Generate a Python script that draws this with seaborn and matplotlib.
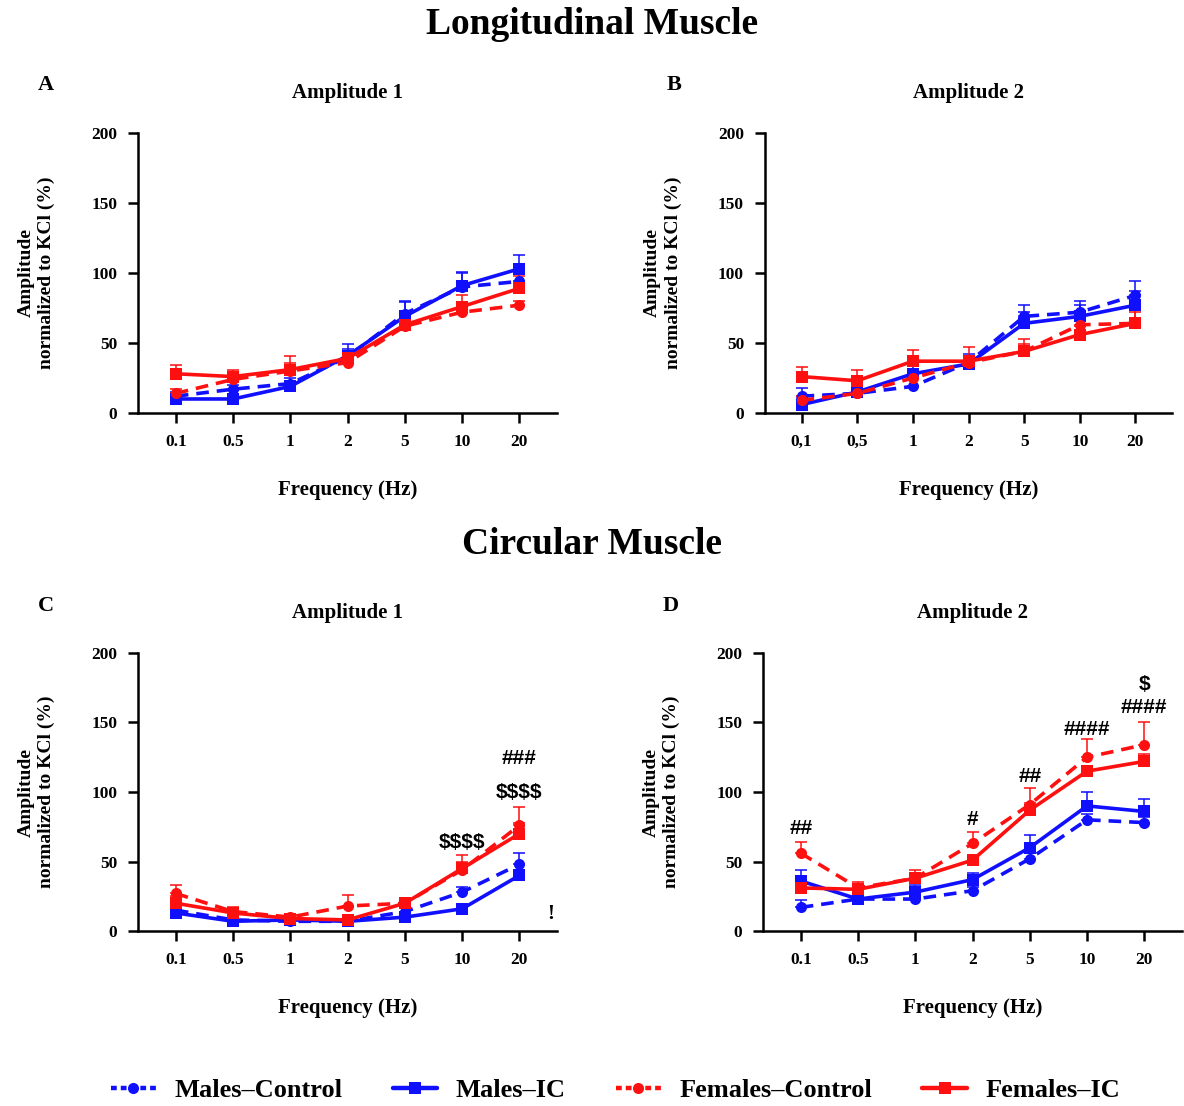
import numpy as np
import pandas as pd
import seaborn as sns
import matplotlib.pyplot as plt
from matplotlib.lines import Line2D

freqs = ['0.1', '0.5', '1', '2', '5', '10', '20']
freqs_comma = ['0,1', '0,5', '1', '2', '5', '10', '20']
groups = ['Males\u2013Control', 'Males\u2013IC', 'Females\u2013Control', 'Females\u2013IC']

# panel A - longitudinal, amplitude 1
a_mc = [12, 17, 21, 40, 71, 90, 94]
a_mi = [10, 10, 19, 41, 69, 91, 103]
a_fc = [14, 24, 30, 36, 62, 72, 77]
a_fi = [28, 26, 31, 39, 63, 76, 89]
a_mc_err = [3, 3, 4, 6, 9, 10, 6]
a_mi_err = [3, 3, 4, 8, 10, 10, 10]
a_fc_err = [3, 4, 6, 3, 4, 4, 3]
a_fi_err = [6, 5, 10, 4, 5, 8, 9]

# panel B - longitudinal, amplitude 2
b_mc = [12, 14, 19, 36, 69, 72, 84]
b_mi = [6, 15, 28, 35, 64, 69, 77]
b_fc = [9, 14, 25, 36, 44, 63, 64]
b_fi = [26, 23, 37, 37, 44, 56, 64]
b_mc_err = [6, 3, 5, 6, 8, 8, 10]
b_mi_err = [5, 3, 6, 5, 8, 8, 10]
b_fc_err = [3, 3, 4, 4, 5, 6, 8]
b_fi_err = [7, 8, 8, 10, 9, 6, 10]

# panel C - circular, amplitude 1
c_mc = [15, 8, 7, 7, 14, 28, 48]
c_mi = [13, 7, 8, 7, 10, 16, 40]
c_fc = [27, 14, 10, 18, 20, 44, 76]
c_fi = [20, 13, 9, 8, 20, 45, 70]
c_mc_err = [3, 2, 2, 2, 3, 4, 8]
c_mi_err = [3, 2, 2, 2, 2, 2, 4]
c_fc_err = [6, 3, 2, 8, 4, 6, 13]
c_fi_err = [5, 3, 2, 2, 4, 10, 8]

# panel D - circular, amplitude 2
d_mc = [17, 23, 23, 29, 52, 80, 78]
d_mi = [36, 23, 28, 37, 60, 90, 86]
d_fc = [56, 31, 38, 63, 91, 125, 134]
d_fi = [31, 30, 38, 51, 87, 115, 122]
d_mc_err = [5, 3, 3, 3, 4, 4, 4]
d_mi_err = [8, 3, 5, 5, 9, 10, 9]
d_fc_err = [8, 4, 6, 8, 12, 13, 16]
d_fi_err = [4, 3, 4, 4, 5, 4, 5]

colors = {groups[0]: '#1010FF', groups[1]: '#1010FF', groups[2]: '#FF1010', groups[3]: '#FF1010'}
dashes = {groups[0]: (3.5, 2.2), groups[1]: '', groups[2]: (3.5, 2.2), groups[3]: ''}
markers = {groups[0]: 'o', groups[1]: 's', groups[2]: 'o', groups[3]: 's'}

sns.set_style('ticks')
plt.rcParams['font.family'] = ['Liberation Serif', 'DejaVu Serif']
plt.rcParams['font.weight'] = 'bold'
for k in ['text.color', 'axes.labelcolor', 'xtick.color', 'ytick.color', 'axes.edgecolor']:
    plt.rcParams[k] = 'black'

fig = plt.figure(figsize=(11.84, 11.06), dpi=100)


def make_df(vals, errs):
    rows = []
    for g, v, e in zip(groups, vals, errs):
        for i in range(len(freqs)):
            rows.append({'pos': i, 'value': v[i], 'err': e[i], 'group': g})
    return pd.DataFrame(rows)


def draw_panel(rect, vals, errs, labels, title, letter):
    ax = fig.add_axes(rect)
    df = make_df(vals, errs)
    # one-sided error bars (upper only)
    for g in groups:
        sub = df[df['group'] == g]
        ax.errorbar(sub['pos'], sub['value'], yerr=[np.zeros(len(sub)), sub['err']],
                    fmt='none', ecolor=colors[g], elinewidth=1.4, capsize=4,
                    capthick=1.4, alpha=0.8, zorder=2)
    sns.lineplot(data=df, x='pos', y='value', hue='group', style='group',
                 palette=colors, dashes=dashes, markers=markers, markersize=8,
                 markeredgewidth=0, linewidth=2.6, ax=ax, legend=False, zorder=3)
    ax.set_xlim(-0.66, 6.66)
    ax.set_ylim(0, 200)
    ax.set_yticks([0, 50, 100, 150, 200])
    ax.set_xticks(range(len(labels)))
    ax.set_xticklabels(labels)
    ax.tick_params(axis='both', labelsize=12.5, width=1.8, length=7, pad=8)
    for lab in ax.get_xticklabels() + ax.get_yticklabels():
        lab.set_fontweight('bold')
    sns.despine(ax=ax)
    ax.spines['left'].set_linewidth(1.8)
    ax.spines['bottom'].set_linewidth(1.8)
    ax.set_xlabel('Frequency (Hz)', fontsize=15, fontweight='bold', labelpad=22)
    ax.set_ylabel('Amplitude\nnormalized to KCl (%)', fontsize=14, fontweight='bold',
                  labelpad=26, linespacing=1.25)
    ax.set_title(title, fontsize=15, fontweight='bold', pad=25)
    ax.text(-0.24, 1.17, letter, transform=ax.transAxes, fontsize=16,
            fontweight='bold', ha='left', va='center')
    return ax


ax_a = draw_panel([0.1166, 0.6266, 0.354, 0.2532], [a_mc, a_mi, a_fc, a_fi],
                  [a_mc_err, a_mi_err, a_fc_err, a_fi_err], freqs, 'Amplitude 1', 'A')
ax_b = draw_panel([0.646, 0.6266, 0.344, 0.2532], [b_mc, b_mi, b_fc, b_fi],
                  [b_mc_err, b_mi_err, b_fc_err, b_fi_err], freqs_comma, 'Amplitude 2', 'B')
ax_c = draw_panel([0.1166, 0.1582, 0.354, 0.2514], [c_mc, c_mi, c_fc, c_fi],
                  [c_mc_err, c_mi_err, c_fc_err, c_fi_err], freqs, 'Amplitude 1', 'C')
ax_d = draw_panel([0.6444, 0.1582, 0.354, 0.2514], [d_mc, d_mi, d_fc, d_fi],
                  [d_mc_err, d_mi_err, d_fc_err, d_fi_err], freqs, 'Amplitude 2', 'D')

# significance marks
sig_c = [(5, 64, r'\$\$\$\$'), (6, 124, '###'), (6, 100, r'\$\$\$\$'), (6.55, 12, '!')]
for x, y, s in sig_c:
    ax_c.text(x, y, s, ha='center', va='center', fontsize=15, fontweight='bold',
              family=['Liberation Sans', 'DejaVu Sans'] if s != '!' else None)
sig_d = [(0, 74, '##'), (3, 80, '#'), (4, 111, '##'), (5, 145, '####'),
         (6, 161, '####'), (6, 177, r'\$')]
for x, y, s in sig_d:
    ax_d.text(x, y, s, ha='center', va='center', fontsize=15, fontweight='bold',
              family=['Liberation Sans', 'DejaVu Sans'])

fig.text(0.5, 0.978, 'Longitudinal Muscle', ha='center', va='center',
         fontsize=27, fontweight='bold')
fig.text(0.5, 0.508, 'Circular Muscle', ha='center', va='center',
         fontsize=27, fontweight='bold')

handles = [Line2D([0], [0], color=colors[g], lw=3.2,
                  linestyle=(0, (1.3, 0.9)) if 'Control' in g else '-',
                  marker=markers[g], markersize=8, markeredgewidth=0)
           for g in groups]
fig.legend(handles, groups, loc='center', bbox_to_anchor=(0.52, 0.014), ncol=4,
           frameon=False, prop={'size': 19, 'weight': 'bold'},
           handlelength=1.7, columnspacing=1.9, handletextpad=0.7)

fig.savefig('out.png', dpi=100)
